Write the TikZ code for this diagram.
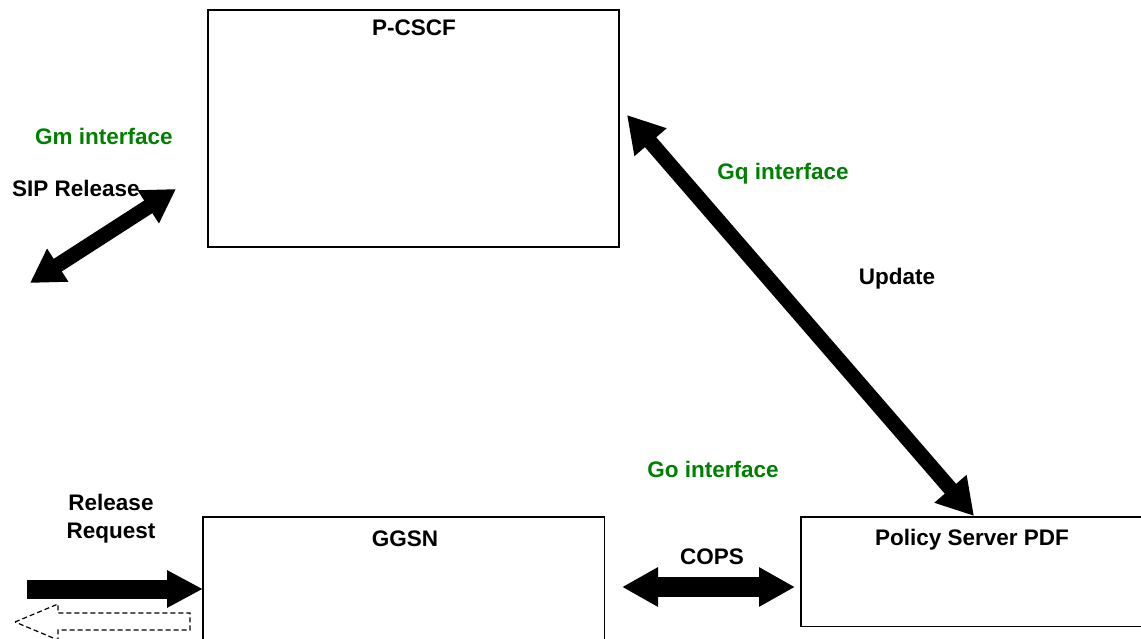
\documentclass[tikz,border=0pt]{standalone}
\usepackage{fontspec}
\setmainfont{Liberation Sans}
\usetikzlibrary{arrows.meta}
\definecolor{ifgreen}{RGB}{0,128,0}
\tikzset{
  txt/.style={font=\bfseries\fontsize{22.5}{27}\selectfont, inner sep=0pt, anchor=base, align=center},
  gtxt/.style={txt, text=ifgreen},
  boxline/.style={line width=1.6pt, draw=black},
  blockarrow/.style={line width=#1, draw=black},
  area/.style={rectangle, anchor=north west, inner sep=0pt},
}
\begin{document}
\begin{tikzpicture}[x=1pt,y=-1pt]
\useasboundingbox (0,0) rectangle (1141,639);
\clip (0,0) rectangle (1141,639);
% boxes
\node[area, boxline, minimum width=411pt, minimum height=237pt] (pcscf) at (207,9) {};
\node[area, minimum width=401pt, minimum height=125pt] (ggsn) at (203,517) {};
\node[area, minimum width=345pt, minimum height=109pt] (pdf) at (801,517) {};
\draw[boxline] (ggsn.south west) -- (ggsn.north west) -- (ggsn.north east) -- (ggsn.south east);
\draw[boxline] (pdf.north east) -- (pdf.north west) -- (pdf.south west) -- (pdf.south east);
% box titles
\node[txt] (pcscft) at (414,36) {P-CSCF};
\node[txt] (ggsnt) at (405,546) {GGSN};
\node[txt] (pdft) at (972,545) {Policy Server PDF};
% labels
\node[gtxt] (gm) at (104,145) {Gm interface};
\node[txt] (sip) at (76,197) {SIP Release};
\node[gtxt] (gq) at (783,180) {Gq interface};
\node[txt] (upd) at (897,284) {Update};
\node[gtxt] (go) at (713,477) {Go interface};
\node[txt] (cops) at (712,564) {COPS};
\node[txt] (relreq) at (111,538) {Release\\[1pt]Request};
% arrow end points
\coordinate (gqA) at (627,115);
\coordinate (gqB) at (974,516);
\coordinate (sipA) at (176,189);
\coordinate (sipB) at (30,283);
\coordinate (copsA) at (622,587);
\coordinate (copsB) at (795,587);
\coordinate (rrA) at (27,589);
\coordinate (rrB) at (ggsn.west |- rrA);
% block arrows
\draw[blockarrow=15pt, {Triangle[length=36pt,width=40pt]}-{Triangle[length=36pt,width=40pt]}] (gqA) -- (gqB);
\draw[blockarrow=15pt, {Triangle[length=33pt,width=37pt]}-{Triangle[length=33pt,width=37pt]}] (sipA) -- (sipB);
\draw[blockarrow=20pt, {Triangle[length=36pt,width=37pt]}-{Triangle[length=36pt,width=37pt]}] (copsA) -- (copsB);
\draw[blockarrow=19pt, -{Triangle[length=36pt,width=35pt]}] (rrA) -- (rrB);
% dashed outline arrow
\draw[line width=1.2pt, dash pattern=on 5pt off 3pt] (15,622) -- (58,604) -- (58,613) -- (190,613) -- (190,630) -- (58,630) -- (58,640) -- cycle;
\end{tikzpicture}
\end{document}
